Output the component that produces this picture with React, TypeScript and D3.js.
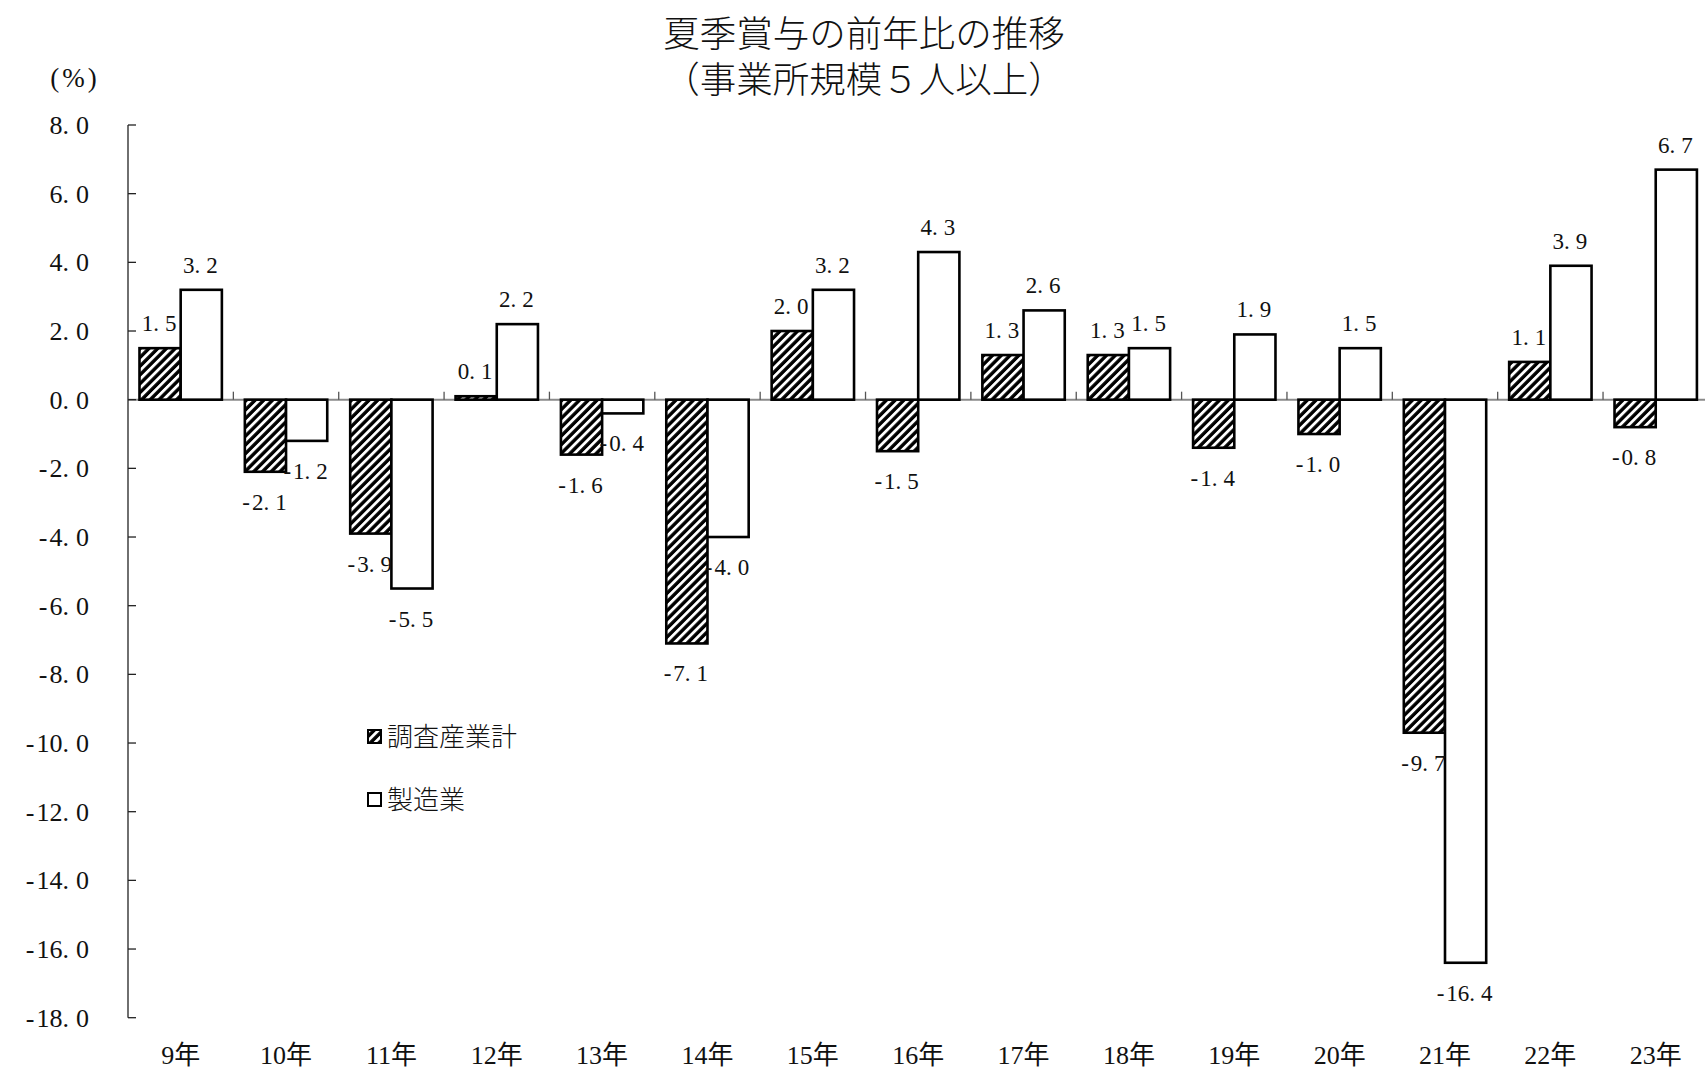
import React from "react";
import * as d3 from "d3";

const categories = ["9年", "10年", "11年", "12年", "13年", "14年", "15年", "16年", "17年", "18年", "19年", "20年", "21年", "22年", "23年"];
const seriesNames = ["調査産業計", "製造業"];
const totalValues = [1.5, -2.1, -3.9, 0.1, -1.6, -7.1, 2.0, -1.5, 1.3, 1.3, -1.4, -1.0, -9.7, 1.1, -0.8];
const mfgValues = [3.2, -1.2, -5.5, 2.2, -0.4, -4.0, 3.2, 4.3, 2.6, 1.5, 1.9, 1.5, -16.4, 3.9, 6.7];
const yTicks = [8, 6, 4, 2, 0, -2, -4, -6, -8, -10, -12, -14, -16, -18];
const titleLines = ["夏季賞与の前年比の推移", "（事業所規模５人以上）"];
const unitLabel = "(%)";

const W = 1705;
const H = 1070;
const left = 128;
const top = 125;
const bottom = 1017.7;
const right = 1708.4;

const SERIF = "'Liberation Serif', 'DejaVu Serif', 'Noto Sans CJK JP', serif";
const CJK = "'Liberation Serif', 'Noto Sans CJK JP', sans-serif";

function Num({ v, gap }: { v: number; gap: number }) {
  const s = v.toFixed(1);
  const i = s.indexOf(".");
  const neg = s.startsWith("-");
  return (
    <>
      {neg ? <tspan dx={0}>-</tspan> : null}
      <tspan dx={neg ? 2 : 0}>{s.slice(neg ? 1 : 0, i + 1)}</tspan>
      <tspan dx={gap}>{s.slice(i + 1)}</tspan>
    </>
  );
}

export default function App() {
  const y = d3.scaleLinear().domain([-18, 8]).range([bottom, top]);
  const x = d3
    .scaleBand<string>()
    .domain(categories)
    .range([left, right])
    .paddingInner(0.218)
    .paddingOuter(0.109);
  const inner = d3.scaleBand<string>().domain(["total", "mfg"]).range([0, x.bandwidth()]);
  const step = x.step();

  const bars: { key: string; cat: string; v: number }[] = [];
  categories.forEach((c, i) => {
    bars.push({ key: "total", cat: c, v: totalValues[i] });
    bars.push({ key: "mfg", cat: c, v: mfgValues[i] });
  });

  const y0 = y(0);

  return (
    <svg
      width={W}
      height={H}
      style={{ position: "absolute", left: 0, top: 0, background: "#fff" }}
      xmlns="http://www.w3.org/2000/svg"
    >
      <defs>
        <pattern id="hatch" patternUnits="userSpaceOnUse" width="6.2" height="6.2" patternTransform="rotate(45)">
          <rect width="6.2" height="6.2" fill="#000" />
          <rect x="0" y="0" width="2.8" height="6.2" fill="#fff" />
        </pattern>
      </defs>
      <rect width={W} height={H} fill="#fff" />

      {/* Title */}
      {titleLines.map((t, i) => (
        <text
          key={t}
          x={864}
          y={34 + i * 46}
          textAnchor="middle"
          dominantBaseline="central"
          fontFamily={CJK}
          fontSize={36.5}
          fontWeight={300}
          fill="#111"
        >
          {t}
        </text>
      ))}
      <text x={75} y={78} textAnchor="middle" dominantBaseline="central" fontFamily={SERIF} fontSize={27} letterSpacing={3} fill="#111">
        {unitLabel}
      </text>

      {/* zero line */}
      <line x1={left} x2={W} y1={y0} y2={y0} stroke="#8a8a8a" strokeWidth={2} />
      {d3.range(1, categories.length + 1).map((i) => (
        <line key={i} x1={left + i * step} x2={left + i * step} y1={y0} y2={y0 - 8} stroke="#555" strokeWidth={1.3} />
      ))}

      {/* y axis */}
      <line x1={left} x2={left} y1={top} y2={bottom} stroke="#222" strokeWidth={1.3} />
      {yTicks.map((t) => (
        <g key={t}>
          <line x1={left} x2={left + 8} y1={y(t)} y2={y(t)} stroke="#222" strokeWidth={1.3} />
          <text
            x={89}
            y={y(t)}
            textAnchor="end"
            dominantBaseline="central"
            fontFamily={SERIF}
            fontSize={26}
            fill="#111"
          >
            <Num v={t} gap={7} />
          </text>
        </g>
      ))}

      {/* bars */}
      {bars.map((b) => {
        const bx = (x(b.cat) as number) + (inner(b.key) as number);
        const bw = inner.bandwidth();
        const yv = y(b.v);
        const yTop = Math.min(yv, y0);
        const h = Math.abs(yv - y0);
        return (
          <rect
            key={b.key + b.cat}
            x={bx}
            y={yTop}
            width={bw}
            height={h}
            fill={b.key === "total" ? "url(#hatch)" : "#fff"}
            stroke="#000"
            strokeWidth={2.6}
          />
        );
      })}

      {/* value labels */}
      {bars.map((b) => {
        const bx = (x(b.cat) as number) + (inner(b.key) as number) + inner.bandwidth() / 2;
        const yv = y(b.v);
        const ly = b.v >= 0 ? yv - 25 : yv + 30;
        return (
          <text
            key={"l" + b.key + b.cat}
            x={bx - 1}
            y={ly}
            textAnchor="middle"
            dominantBaseline="central"
            fontFamily={SERIF}
            fontSize={23}
            fill="#111"
          >
            <Num v={b.v} gap={6} />
          </text>
        );
      })}

      {/* x labels */}
      {categories.map((c) => (
        <text
          key={"x" + c}
          x={(x(c) as number) + x.bandwidth() / 2}
          y={1055}
          textAnchor="middle"
          dominantBaseline="central"
          fontFamily={CJK}
          fontSize={26}
          fill="#111"
        >
          {c}
        </text>
      ))}

      {/* legend */}
      {seriesNames.map((s, i) => (
        <g key={s} transform={`translate(368, ${730 + i * 63})`}>
          <rect
            x={0}
            y={0}
            width={13}
            height={13}
            fill={i === 0 ? "url(#hatch)" : "#fff"}
            stroke="#000"
            strokeWidth={2}
          />
          <text x={19} y={7} dominantBaseline="central" fontFamily={CJK} fontSize={26} fontWeight={300} fill="#111">
            {s}
          </text>
        </g>
      ))}
    </svg>
  );
}
